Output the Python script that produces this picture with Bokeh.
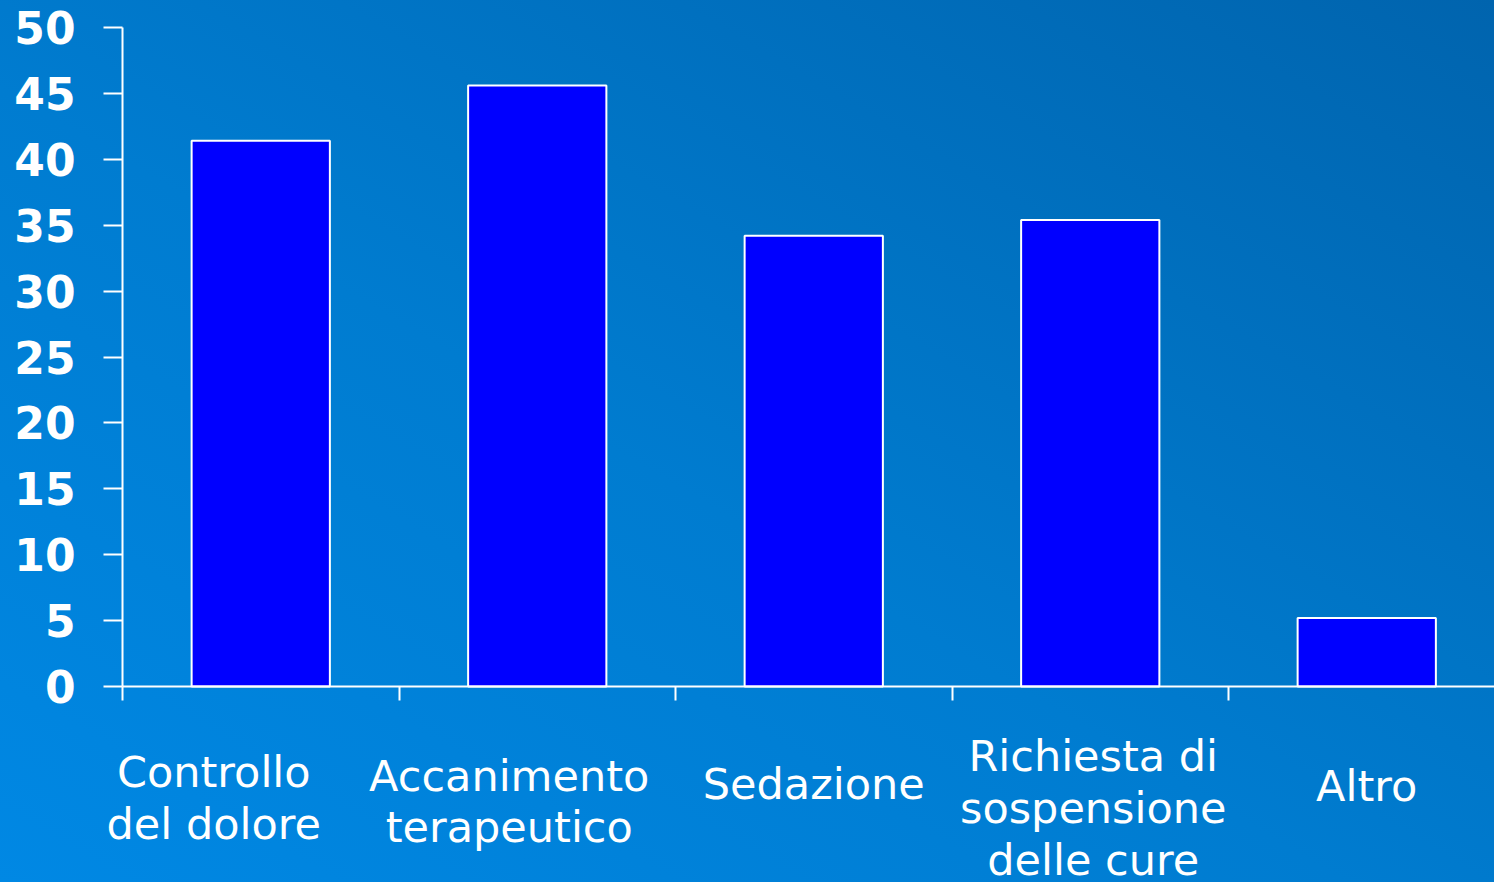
from bokeh.plotting import figure
from bokeh.models import Range1d, FixedTicker, ColumnDataSource, LabelSet, LinearAxis
from bokeh.core.properties import value
from bokeh.embed import file_html
from bokeh.resources import INLINE

# ---- data ----
categories = ["Controllo\ndel dolore", "Accanimento\nterapeutico", "Sedazione",
              "Richiesta di\nsospensione\ndelle cure", "Altro"]
values = [41.4, 45.6, 34.2, 35.4, 5.2]
y_ticks = [0, 5, 10, 15, 20, 25, 30, 35, 40, 45, 50]

# ---- layout config (pixels) ----
W, H = 1494, 882
left_px = 122
zero_px = 686
top_val_px = 27
cat_px = 276.5
label_dx_px = [-47, -28, 0, 3, 0]
first_baseline_px = [786, 790, 798, 770, 800]
line_gap_px = [52, 51, 51, 52, 51]

ppu = (zero_px - top_val_px) / 50.0
y_end = 50 + top_val_px / ppu
y_start = -(H - zero_px) / ppu
x_start = -left_px / cat_px
x_end = (W - left_px) / cat_px

p = figure(width=W, height=H, x_range=Range1d(x_start, x_end), y_range=Range1d(y_start, y_end),
           output_backend="svg", toolbar_location=None,
           x_axis_location=None, y_axis_location=None,
           min_border_left=0, min_border_right=0, min_border_top=0, min_border_bottom=0)
p.grid.visible = False
p.outline_line_color = None
p.background_fill_alpha = 0
p.border_fill_alpha = 0
p.styles = {"background": "linear-gradient(to top right, #0088e4 0%, #007cd0 45%, #0064ae 100%)"}

# y axis (pinned at the first category boundary)
ya = LinearAxis(fixed_location=0, ticker=FixedTicker(ticks=y_ticks), bounds=(0, 50))
ya.axis_line_color = "white"
ya.axis_line_width = 2
ya.major_tick_line_color = "white"
ya.major_tick_line_width = 2
ya.major_tick_in = 0
ya.major_tick_out = 19
ya.minor_tick_line_color = None
ya.major_label_standoff = 28
ya.major_label_text_color = "white"
ya.major_label_text_font = "DejaVu Sans"
ya.major_label_text_font_style = "bold"
ya.major_label_text_font_size = "44px"
p.add_layout(ya, "left")

# x axis (pinned at y=0), ticks at category boundaries
bx = list(range(len(categories)))
xa = LinearAxis(fixed_location=0, ticker=FixedTicker(ticks=bx), bounds=(0, x_end))
xa.axis_line_color = "white"
xa.axis_line_width = 2
xa.major_tick_line_color = "white"
xa.major_tick_line_width = 2
xa.major_tick_in = 0
xa.major_tick_out = 14
xa.minor_tick_line_color = None
xa.major_label_text_font_size = "0px"
xa.major_label_text_alpha = 0
p.add_layout(xa, "below")

# bars
xs = [i + 0.5 for i in range(len(categories))]
src = ColumnDataSource(dict(x=xs, top=values))
p.vbar(x="x", top="top", width=0.5, bottom=0, source=src,
       fill_color="#0000FF", line_color="white", line_width=2)

# category labels (one entry per line)
tx, ty, tt = [], [], []
for i, lab in enumerate(categories):
    for j, line in enumerate(lab.split("\n")):
        tx.append(xs[i] + label_dx_px[i] / cat_px)
        ty.append((zero_px - (first_baseline_px[i] + j * line_gap_px[i])) / ppu)
        tt.append(line)
lsrc = ColumnDataSource(dict(x=tx, y=ty, text=tt))
p.add_layout(LabelSet(x="x", y="y", text="text", source=lsrc,
                      text_align="center", text_baseline="alphabetic",
                      text_color="white", text_font=value("DejaVu Sans"),
                      text_font_size="43px"))

open("out.html", "w").write(file_html(p, INLINE))
